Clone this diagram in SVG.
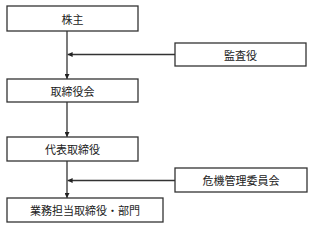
<svg xmlns="http://www.w3.org/2000/svg" width="313" height="229" viewBox="0 0 313 229">
<style>
.box{fill:#fff;stroke:#333;stroke-width:1.3}
.lbl{font-family:"Noto Sans CJK JP","Noto Sans",sans-serif;font-size:11px;fill:#222;text-anchor:middle;dominant-baseline:central}
.ln{stroke:#333;stroke-width:1.3;fill:none}
</style>
<defs>
<marker id="ah" viewBox="0 0 10 10" refX="10" refY="5" markerWidth="5" markerHeight="5" orient="auto" markerUnits="userSpaceOnUse">
<path d="M0,0 L10,5 L0,10 z" fill="#222"/>
</marker>
</defs>
<rect width="313" height="229" fill="#fff"/>
<g id="connectors">
<line class="ln" x1="67" y1="31" x2="67" y2="79" marker-end="url(#ah)"/>
<line class="ln" x1="175" y1="54.5" x2="67.6" y2="54.5" marker-end="url(#ah)"/>
<line class="ln" x1="67" y1="102" x2="67" y2="137" marker-end="url(#ah)"/>
<line class="ln" x1="67" y1="161" x2="67" y2="198" marker-end="url(#ah)"/>
<line class="ln" x1="175" y1="180.5" x2="67.6" y2="180.5" marker-end="url(#ah)"/>
</g>
<g id="kabunushi"><rect class="box" x="7" y="6" width="131" height="25"/><text class="lbl" x="72.5" y="18.5">株主</text></g>
<g id="kansayaku"><rect class="box" x="175" y="43" width="131" height="23"/><text class="lbl" x="240.5" y="54.5">監査役</text></g>
<g id="torishimariyakukai"><rect class="box" x="7" y="79" width="131" height="23"/><text class="lbl" x="72.5" y="90.5">取締役会</text></g>
<g id="daihyo"><rect class="box" x="7" y="137" width="131" height="24"/><text class="lbl" x="72.5" y="149">代表取締役</text></g>
<g id="kiki"><rect class="box" x="175" y="168" width="132" height="24"/><text class="lbl" x="241" y="180">危機管理委員会</text></g>
<g id="gyomu"><rect class="box" x="7" y="198" width="156" height="24"/><text class="lbl" x="85" y="210">業務担当取締役・部門</text></g>
</svg>
